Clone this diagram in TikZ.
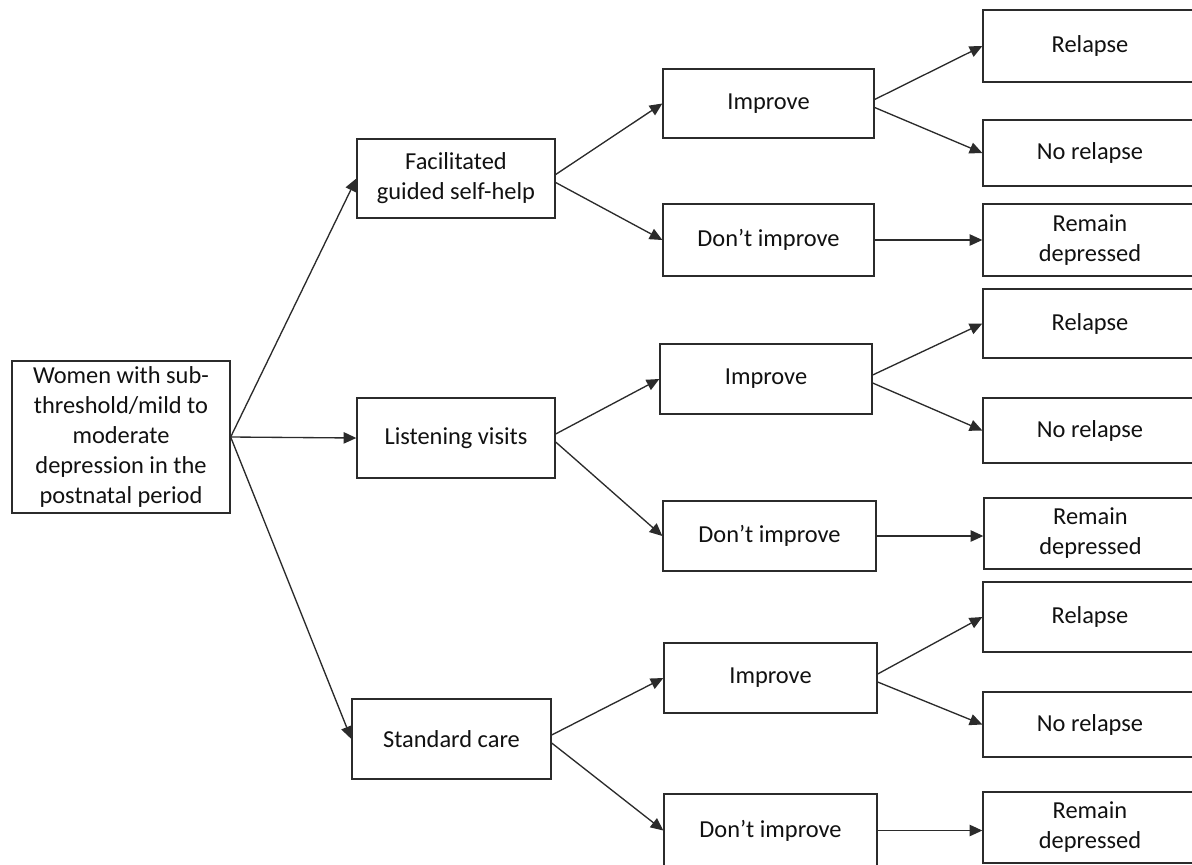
\documentclass[tikz,border=0pt]{standalone}
\usepackage{fontspec}
\setmainfont{Carlito}
\usetikzlibrary{arrows.meta}
\definecolor{ln}{HTML}{2B2B2B}
\definecolor{tx}{HTML}{111111}
\tikzset{
  box/.style={draw=ln, line width=1pt, fill=white, inner sep=0pt, align=center,
    text=tx, font=\fontsize{18.3pt}{22.5pt}\selectfont},
  conn/.style={draw=ln, line width=1pt, -{Triangle[length=9.5pt,width=8.5pt]}}
}
\newcommand\bx[6]{\node[box, minimum width={(#4-#2)*0.75pt}, minimum height={(#5-#3)*0.75pt}] (#1) at ({(#2+#4)/2},{(#3+#5)/2}) {#6};}
\begin{document}
\begin{tikzpicture}[x=0.75pt,y=-0.75pt]
\useasboundingbox (0,0) rectangle (1192,864);
% root
\bx{root}{12}{361}{230}{513}{Women with sub-\\threshold/mild to\\moderate\\depression in the\\postnatal period}
% level 1
\bx{fac}{357}{139}{555}{218}{Facilitated\\guided self-help}
\bx{lis}{357}{398}{555}{478}{Listening visits}
\bx{std}{352}{699}{551}{779}{Standard care}
% level 2
\bx{imA}{663}{69}{874}{138}{Improve}
\bx{dnA}{663}{204}{874}{276}{Don’t improve}
\bx{imB}{660}{344}{872}{414}{Improve}
\bx{dnB}{663}{501}{876}{571}{Don’t improve}
\bx{imC}{664}{643}{877}{713}{Improve}
\bx{dnC}{664}{794}{877}{867}{Don’t improve}
% level 3
\bx{reA}{983}{10}{1197}{82}{Relapse}
\bx{noA}{983}{120}{1197}{186}{No relapse}
\bx{rmA}{983}{204}{1197}{276}{Remain\\depressed}
\bx{reB}{983}{289}{1197}{358}{Relapse}
\bx{noB}{983}{398}{1197}{463}{No relapse}
\bx{rmB}{984}{498}{1197}{569}{Remain\\depressed}
\bx{reC}{983}{582}{1197}{652}{Relapse}
\bx{noC}{983}{692}{1197}{757}{No relapse}
\bx{rmC}{983}{792}{1197}{863}{Remain\\depressed}
% connectors
\draw[conn] (root.east) -- (fac.west);
\draw[conn] (root.east) -- (lis.west);
\draw[conn] (root.east) -- (std.west);
\draw[conn] ([yshift=3pt]fac.east) -- (imA.west);
\draw[conn] ([yshift=-3pt]fac.east) -- (dnA.west);
\draw[conn] ([yshift=3pt]lis.east) -- (imB.west);
\draw[conn] ([yshift=-3pt]lis.east) -- (dnB.west);
\draw[conn] ([yshift=3pt]std.east) -- (imC.west);
\draw[conn] ([yshift=-3pt]std.east) -- (dnC.west);
\draw[conn] ([yshift=3pt]imA.east) -- (reA.west);
\draw[conn] ([yshift=-3pt]imA.east) -- (noA.west);
\draw[conn] (dnA.east) -- (dnA.east -| rmA.west);
\draw[conn] ([yshift=3pt]imB.east) -- (reB.west);
\draw[conn] ([yshift=-3pt]imB.east) -- (noB.west);
\draw[conn] (dnB.east) -- (dnB.east -| rmB.west);
\draw[conn] ([yshift=3pt]imC.east) -- (reC.west);
\draw[conn] ([yshift=-3pt]imC.east) -- (noC.west);
\draw[conn] (dnC.east) -- (dnC.east -| rmC.west);
\end{tikzpicture}
\end{document}
